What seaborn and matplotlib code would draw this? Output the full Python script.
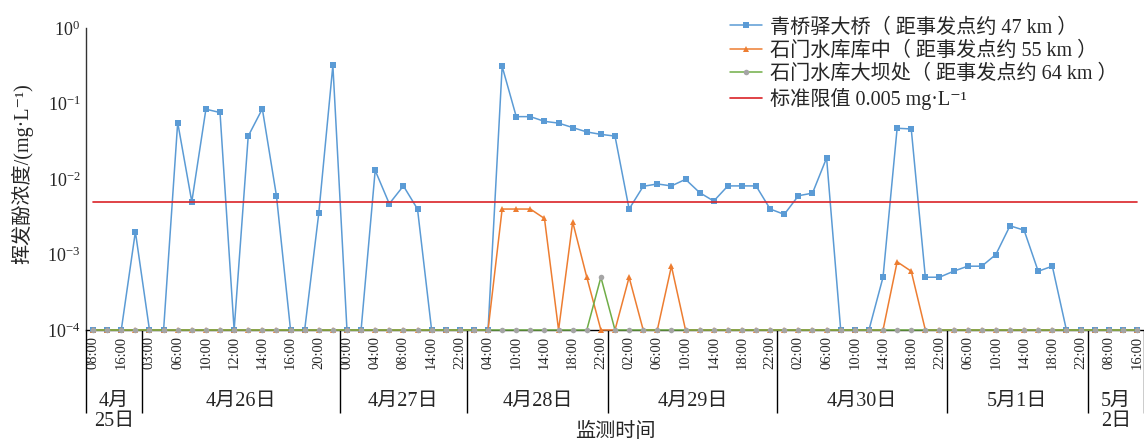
import numpy as np
import matplotlib.pyplot as plt
import matplotlib.ticker as mticker
import seaborn as sns

# --- data: volatile phenol readings, one per sampling slot (75 slots) ---
# 1e-4 = below detection, drawn on the axis floor
ND = 1e-4

qiaoyi = [
    ND, ND, ND, 0.002, ND, ND, 0.056, 0.005, 0.084, 0.076,
    ND, 0.037, 0.085, 0.006, ND, ND, 0.0035, 0.32, ND, ND,
    0.013, 0.0047, 0.0081, 0.0040, ND, ND, ND, ND, ND, 0.31,
    0.067, 0.067, 0.058, 0.055, 0.048, 0.042, 0.039, 0.037, 0.0040, 0.0080,
    0.0086, 0.0081, 0.0099, 0.0066, 0.0051, 0.0081, 0.0081, 0.0081, 0.0040, 0.0034,
    0.0060, 0.0065, 0.019, ND, ND, ND, 0.0005, 0.047, 0.046, 0.0005,
    0.0005, 0.0006, 0.0007, 0.0007, 0.0010, 0.0024, 0.0021, 0.0006, 0.0007, ND,
    ND, ND, ND, ND, ND,
]
kuzhong = [ND] * 29 + [
    0.004, 0.004, 0.004, 0.003, ND, 0.0027, 0.0005, ND, ND, 0.0005,
    ND, ND, 0.0007,
] + [ND] * 15 + [0.0008, 0.0006] + [ND] * 16
daba = [ND] * 36 + [0.0005] + [ND] * 38
limit = 0.005

series_names = [
    "青桥驿大桥（ 距事发点约 47 km ）",
    "石门水库库中（ 距事发点约 55 km ）",
    "石门水库大坝处（ 距事发点约 64 km ）",
    "标准限值 0.005 mg·L⁻¹",
]

# labels shown on every second slot
time_labels = [
    "08:00", "16:00",
    "03:00", "06:00", "10:00", "12:00", "14:00", "16:00", "20:00",
    "00:00", "04:00", "08:00", "14:00", "22:00",
    "04:00", "10:00", "14:00", "18:00", "22:00",
    "02:00", "06:00", "10:00", "14:00", "18:00", "22:00",
    "02:00", "06:00", "10:00", "14:00", "18:00", "22:00",
    "06:00", "10:00", "14:00", "18:00", "22:00",
    "08:00", "16:00",
]
days = ["4月\n25日", "4月26日", "4月27日", "4月28日", "4月29日", "4月30日", "5月1日", "5月\n2日"]
day_counts = [4, 14, 9, 10, 12, 12, 10, 4]

sns.set_theme(style="white")
plt.rcParams["font.family"] = ["Liberation Serif", "Noto Sans CJK SC", "DejaVu Serif"]
plt.rcParams["mathtext.fontset"] = "stix"
plt.rcParams["axes.unicode_minus"] = False

n = len(qiaoyi)
idx = np.arange(n)

fig = plt.figure(figsize=(11.44, 4.41), dpi=100)
ax = fig.add_axes([86 / 1144, 1 - 330 / 441, 1058 / 1144, 302 / 441])

line_kw = dict(lw=1.1, markersize=4, markeredgewidth=0, clip_on=False, zorder=3, ax=ax)
sns.lineplot(x=idx, y=qiaoyi, color="#5B9BD5", marker="s", label=series_names[0], **line_kw)
sns.lineplot(x=idx, y=kuzhong, color="#ED7D31", marker="^", label=series_names[1], **line_kw)
sns.lineplot(x=idx, y=daba, color="#70AD47", marker="o", markerfacecolor="#A5A5A5",
             label=series_names[2], **line_kw)
sns.lineplot(x=idx, y=np.full(n, limit), color="#DA2328", lw=1.2, zorder=3,
             label=series_names[3], ax=ax)

# y axis
ax.set_yscale("log")
ax.set_ylim(1e-4, 1)
ax.yaxis.set_major_locator(mticker.LogLocator(base=10, numticks=10))
ax.yaxis.set_minor_locator(mticker.NullLocator())
ax.tick_params(axis="y", direction="in", length=3.5, width=1, labelsize=13, pad=4, color="#333333")
ax.text(-0.0605, 0.517, "挥发酚浓度/(mg·L⁻¹)", transform=ax.transAxes,
        rotation=90, ha="center", va="center", fontsize=14.5)

# x axis: slots, long separators between slots, day groups below
ax.set_xlim(-0.5, n - 0.5)
ax.set_xticks(idx[::2])
ax.set_xticklabels(time_labels, rotation=90, fontsize=10.5)
ax.set_xticks(np.arange(-0.5, n, 1), minor=True)
ax.tick_params(axis="x", which="major", length=0, pad=4)
ax.tick_params(axis="x", which="minor", length=34.5, width=1.0, direction="out", color="black")
ax.set_xlabel("")
ax.set_ylabel("")

bounds = np.concatenate([[0], np.cumsum(day_counts)]) - 0.5
trans = ax.get_xaxis_transform()
ax.vlines(bounds, 0, -0.275, transform=trans, colors="black", lw=1.0, clip_on=False)
for c, d in zip((bounds[:-1] + bounds[1:]) / 2, days):
    ax.text(c, -0.205, d, transform=trans, ha="center", va="top", fontsize=14.5, linespacing=1.1)
ax.text(0.5, -0.338, "监测时间", transform=ax.transAxes, ha="center", va="center", fontsize=14.5)

for s in ["top", "right"]:
    ax.spines[s].set_visible(False)
ax.spines["left"].set_color("#333333")
ax.spines["bottom"].set_color("black")
ax.spines["left"].set_linewidth(1.0)
ax.spines["bottom"].set_linewidth(1.0)

# legend, top right, no frame
handles, labels = ax.get_legend_handles_labels()
if ax.get_legend() is not None:
    ax.get_legend().remove()
fig.legend(handles, labels, loc="upper left", bbox_to_anchor=(720 / 1144, 1 - 8 / 441),
           frameon=False, fontsize=14.5, borderpad=0, labelspacing=0.2,
           handlelength=1.6, handletextpad=0.4)

fig.savefig("out.png", dpi=100)
